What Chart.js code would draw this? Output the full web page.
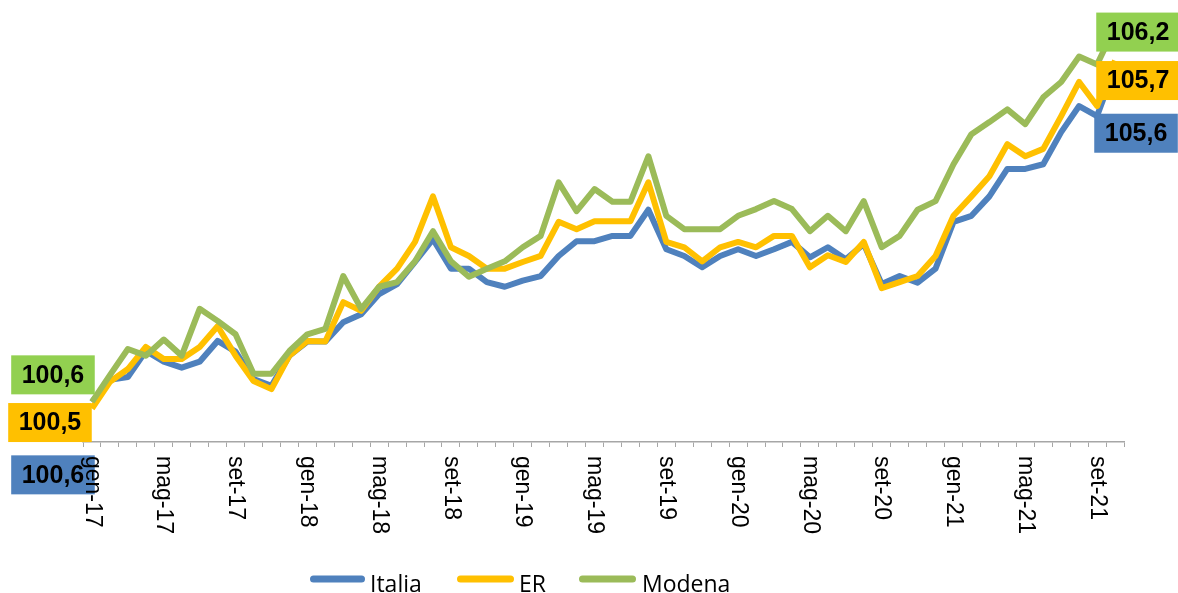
<!DOCTYPE html>
<html><head><meta charset="utf-8">
<script src="https://cdn.jsdelivr.net/npm/chart.js@4.4.1/dist/chart.umd.min.js"></script>
<style>html,body{margin:0;padding:0;background:#fff;}canvas{display:block;}</style>
</head><body>
<canvas id="c" width="1178" height="593"></canvas>
<script>
const categories = [
 'gen-17','feb-17','mar-17','apr-17','mag-17','giu-17','lug-17','ago-17','set-17','ott-17','nov-17','dic-17',
 'gen-18','feb-18','mar-18','apr-18','mag-18','giu-18','lug-18','ago-18','set-18','ott-18','nov-18','dic-18',
 'gen-19','feb-19','mar-19','apr-19','mag-19','giu-19','lug-19','ago-19','set-19','ott-19','nov-19','dic-19',
 'gen-20','feb-20','mar-20','apr-20','mag-20','giu-20','lug-20','ago-20','set-20','ott-20','nov-20','dic-20',
 'gen-21','feb-21','mar-21','apr-21','mag-21','giu-21','lug-21','ago-21','set-21','ott-21'];
const tickLabels = ['gen-17','mag-17','set-17','gen-18','mag-18','set-18','gen-19','mag-19','set-19','gen-20','mag-20','set-20','gen-21','mag-21','set-21'];
const italia = [100.6,100.93,100.97,101.36,101.2,101.11,101.2,101.51,101.35,100.94,100.84,101.29,
 101.5,101.5,101.79,101.91,102.21,102.36,102.69,103.03,102.59,102.59,102.39,102.32,
 102.41,102.48,102.78,103.0,103.0,103.08,103.08,103.47,102.88,102.78,102.61,102.78,
 102.88,102.78,102.88,102.99,102.76,102.91,102.73,102.96,102.36,102.48,102.38,102.59,
 103.29,103.38,103.67,104.08,104.08,104.15,104.63,105.02,104.87,105.6];
const er = [100.5,100.9,101.09,101.42,101.24,101.24,101.42,101.73,101.29,100.91,100.79,101.29,
 101.51,101.5,102.09,101.96,102.32,102.59,102.99,103.67,102.91,102.78,102.59,102.59,
 102.69,102.78,103.29,103.18,103.3,103.3,103.3,103.88,102.99,102.91,102.7,102.91,
 102.99,102.91,103.08,103.08,102.61,102.79,102.69,102.99,102.3,102.39,102.48,102.78,
 103.38,103.67,103.97,104.45,104.27,104.38,104.87,105.38,105.02,105.7];
const modena = [100.6,101.0,101.39,101.29,101.53,101.29,101.99,101.81,101.61,101.02,101.02,101.36,
 101.61,101.69,102.48,101.99,102.32,102.39,102.7,103.15,102.7,102.47,102.59,102.7,
 102.91,103.08,103.88,103.45,103.78,103.59,103.59,104.27,103.38,103.18,103.18,103.18,
 103.38,103.48,103.6,103.48,103.15,103.38,103.15,103.6,102.91,103.08,103.47,103.6,
 104.15,104.6,104.78,104.97,104.75,105.15,105.38,105.76,105.64,106.2];

const COLORS = {Italia:'#4F81BD', ER:'#FFC000', Modena:'#9BBB59'};
const LABEL_BG = {Italia:'#4F81BD', ER:'#FFC000', Modena:'#92D050'};
// box-centre offsets from the first / last point (styling)
const LABEL_OFF = {
  Italia: {first:[-39, 73], last:[21, 66]},
  ER:     {first:[-42, 14], last:[23, 20]},
  Modena: {first:[-39,-27], last:[23, 5]}
};
const LEGEND_POS = {Italia:[310,365,370], ER:[457,514,519], Modena:[579,636,642]};

function fmt(v){ return v.toFixed(1).replace('.', ','); }

const overlay = {
  id:'overlay',
  afterDatasetsDraw(chart){
    const ctx = chart.ctx;
    ctx.save();
    ctx.font = 'bold 25px "Liberation Sans", Arial, sans-serif';
    ctx.textAlign = 'center'; ctx.textBaseline = 'middle';
    chart.data.datasets.forEach((ds, di) => {
      const meta = chart.getDatasetMeta(di);
      const off = LABEL_OFF[ds.label];
      [['first',0],['last',ds.data.length-1]].forEach(([k, idx]) => {
        const pt = meta.data[idx];
        const cx = pt.x + off[k][0], cy = pt.y + off[k][1];
        const txt = fmt(ds.data[idx]);
        const w = ctx.measureText(txt).width + 21, h = 39;
        ctx.fillStyle = LABEL_BG[ds.label];
        ctx.fillRect(cx - w/2, cy - h/2, w, h);
        ctx.fillStyle = '#000';
        ctx.fillText(txt, cx, cy + 1);
      });
    });
    ctx.restore();
  },
  afterDraw(chart){
    const ctx = chart.ctx, xs = chart.scales.x;
    ctx.save();
    ctx.font = '23px "Liberation Sans", Arial, sans-serif';
    ctx.fillStyle = '#000';
    ctx.textAlign = 'left'; ctx.textBaseline = 'middle';
    categories.forEach((c, i) => {
      if (!tickLabels.includes(c)) return;
      const x = xs.getPixelForValue(i);
      ctx.save();
      ctx.translate(x, chart.chartArea.bottom + 14);
      ctx.rotate(Math.PI/2);
      ctx.fillText(c, 0, 0);
      ctx.restore();
    });
    // legend
    ctx.font = '23px "Open Sans", sans-serif';
    ctx.textBaseline = 'alphabetic';
    chart.data.datasets.forEach(ds => {
      const p = LEGEND_POS[ds.label];
      ctx.strokeStyle = ds.borderColor; ctx.lineWidth = 7; ctx.lineCap = 'round';
      ctx.beginPath(); ctx.moveTo(p[0]+3.5, 579); ctx.lineTo(p[1]-3.5, 579); ctx.stroke();
      ctx.fillStyle = '#000';
      ctx.fillText(ds.label, p[2], 592);
    });
    ctx.restore();
  }
};

function mk(label, data, order){
  return {label, data, order, borderColor:COLORS[label], backgroundColor:COLORS[label],
    borderWidth:6, pointRadius:0, tension:0, borderJoinStyle:'round', borderCapStyle:'butt', fill:false};
}

new Chart(document.getElementById('c'), {
  type:'line',
  data:{labels:categories, datasets:[mk('Italia', italia, 3), mk('ER', er, 2), mk('Modena', modena, 1)]},
  options:{
    responsive:false, animation:false, events:[],
    layout:{padding:{left:83, right:54, top:7, bottom:146}},
    plugins:{legend:{display:false}, tooltip:{enabled:false}},
    scales:{
      x:{type:'category', offset:true,
         grid:{display:true, drawOnChartArea:false, drawTicks:true, tickLength:5, offset:true, color:'#A6A6A6', lineWidth:1},
         border:{display:true, color:'#A6A6A6', width:1.5},
         ticks:{display:false, autoSkip:false}},
      y:{display:false, min:100, max:106.5}
    }
  },
  plugins:[overlay]
});
</script>
</body></html>
